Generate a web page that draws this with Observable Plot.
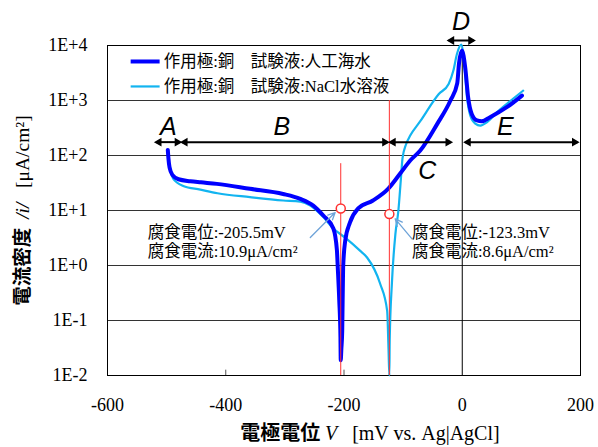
<!DOCTYPE html>
<html><head><meta charset="utf-8">
<script src="https://cdn.jsdelivr.net/npm/d3@7"></script>
<script src="https://cdn.jsdelivr.net/npm/@observablehq/plot@0.6"></script>
<style>body{margin:0;background:#fff}</style>
</head><body><div id="chart"></div>
<script>
// ---- data (potential mV vs Ag|AgCl, current density µA/cm²) ----
const seawaterV = [-498,-497,-495,-490,-480,-460,-442,-415,-359,-303,-274,-252,-235,-218,-212,-210.5,-208,-206,-205.5,-204.5,-203,-201.5,-198,-190,-176,-151,-125,-105,-88,-71,-42,-20,-8.5,-5.5,-0.5,5,10,16,25,33,47,76,101];
const seawaterI = [126,90,60,44,37,34,32.5,30.5,24.8,20,16.3,12.3,8.1,4.7,1.9,0.9,0.23,0.05,0.019,0.03,0.066,0.9,2.8,6,10.9,15.2,25,47,81,123,380,1000,2040,4700,8100,4000,1130,570,434,420,498,763,1230];
const naclV = [-498,-497,-494,-489,-472,-443,-414,-359,-303,-274,-257,-235,-218,-198,-173,-161,-139,-127,-124.7,-123.3,-122.7,-119,-113,-108,-104,-101,-95,-88,-71,-40,-23,-15,-9,-1.7,3.4,8,13.5,22,30.5,42,59,76,103];
const naclI = [126,90,60,38,28,24,20.6,17.5,15.2,14.5,12.3,7.6,4.7,3.2,1.86,1.4,0.47,0.15,0.03,0.01,0.044,0.47,3.8,10,35,90,160,230,420,1300,2000,3500,7000,10400,4700,1150,535,380,350,403,614,880,1510];
const seriesNames = ["作用極:銅　試験液:人工海水", "作用極:銅　試験液:NaCl水溶液"];
const corrosionV = [-205.5, -123.3];
const corrosionI = [10.9, 8.6];
const corrosionText = ["腐食電位:-205.5mV\n腐食電流:10.9μA/cm²", "腐食電位:-123.3mV\n腐食電流:8.6μA/cm²"];
const xTicks = [-600, -400, -200, 0, 200];
const xTickLabels = ["-600", "-400", "-200", "0", "200"];
const yTicks = [0.01, 0.1, 1, 10, 100, 1000, 10000];
const yTickLabels = ["1E-2", "1E-1", "1E+0", "1E+1", "1E+2", "1E+3", "1E+4"];
const regionLabels = ["A", "B", "C", "D", "E"];
const regionFrom = [-518, -474, -122, -23, 5];
const regionTo = [-477, -126, -19, 19.5, 195];

// ---- tables built from the arrays ----
const seawater = seawaterV.map((v, i) => ({V: v, I: seawaterI[i]}));
const nacl = naclV.map((v, i) => ({V: v, I: naclI[i]}));
const corr = corrosionV.map((v, i) => ({V: v, I: corrosionI[i], text: corrosionText[i]}));
const regionY = [175, 175, 175, 12330, 175];
const regionLabelX = [-497, -305, -59, -2, 73];
const regionLabelY = [323, 323, 53, 26500, 323];
const regions = regionLabels.map((l, i) => ({l, a: regionFrom[i], b: regionTo[i], y: regionY[i], lx: regionLabelX[i], ly: regionLabelY[i]}));

const serif = "'Liberation Serif','Noto Sans CJK JP',serif";
const DARK = "#0000ff", LIGHT = "#12b4f0", RED = "#ff3030", POINT = "#6ea3d8";

const chart = Plot.plot({
  width: 598, height: 447,
  marginLeft: 107, marginRight: 18, marginTop: 45, marginBottom: 72,
  style: {fontFamily: serif, fontSize: "17px", background: "white", overflow: "visible", color: "black"},
  x: {domain: [-600, 200], axis: null},
  y: {type: "log", domain: [0.01, 10000], axis: null},
  marks: [
    Plot.gridY(yTicks, {stroke: "#333", strokeOpacity: 1}),
    Plot.ruleX([0], {stroke: "black"}),
    Plot.ruleX([-400, -200], {y1: 0.01, y2: 0.0125, stroke: "#555"}),
    Plot.frame({stroke: "black"}),
    // tick labels (serif)
    Plot.text(xTicks, {x: d => d, y: 0.01, dy: 30, text: (d, i) => xTickLabels[i], fontSize: 18, fontFamily: "'Liberation Serif',serif"}),
    Plot.text(yTicks, {x: -600, y: d => d, dx: -20, textAnchor: "end", text: (d, i) => yTickLabels[i], fontSize: 18, fontFamily: "'Liberation Serif',serif"}),
    // curves
    Plot.line(nacl, {x: "V", y: "I", stroke: LIGHT, strokeWidth: 2.2, curve: "monotone-x"}),
    Plot.line(seawater, {x: "V", y: "I", stroke: DARK, strokeWidth: 4, curve: "monotone-x", strokeLinecap: "round"}),
    // corrosion potential markers
    Plot.ruleX([corr[0]], {x: "V", y1: 71, y2: 0.01, stroke: RED, strokeWidth: 1}),
    Plot.ruleX([corr[1]], {x: "V", y1: 1000, y2: 0.01, stroke: RED, strokeWidth: 1}),
    Plot.dot(corr, {x: "V", y: "I", r: 4.5, stroke: RED, fill: "white", strokeWidth: 1.5}),
    Plot.arrow([{x1: -257, y1: 3.23, x2: -215, y2: 9.2}, {x1: -85, y1: 3.05, x2: -113.4, y2: 7.06}],
      {x1: "x1", y1: "y1", x2: "x2", y2: "y2", stroke: POINT, strokeWidth: 1.3, headLength: 9, headAngle: 50}),
    Plot.text(corr, {x: (d, i) => [-532, -85][i], y: 5.8, text: "text", textAnchor: "start", lineAnchor: "top", lineHeight: 1.2, fontSize: 16.5}),
    // region arrows
    Plot.link(regions, {x1: "a", x2: "b", y1: "y", y2: "y", stroke: "black", strokeWidth: 2}),
    Plot.dot(regions, {x: "a", y: "y", symbol: "triangle2", r: 4.2, rotate: -90, fill: "black", dx: 3}),
    Plot.dot(regions, {x: "b", y: "y", symbol: "triangle2", r: 4.2, rotate: 90, fill: "black", dx: -3}),
    Plot.text(regions, {x: "lx", y: "ly", text: "l", fontFamily: "'Liberation Sans',Arial,sans-serif", fontStyle: "italic", fontSize: 25}),
    // legend
    Plot.ruleY([5120], {x1: -560, x2: -511, stroke: DARK, strokeWidth: 4}),
    Plot.ruleY([1800], {x1: -560, x2: -511, stroke: LIGHT, strokeWidth: 2.2}),
    Plot.text([seriesNames[0]], {x: -505, y: 5120, text: d => d, textAnchor: "start", fontSize: 16.5}),
    Plot.text([seriesNames[1]], {x: -505, y: 1800, text: d => d, textAnchor: "start", fontSize: 16.5}),
    // axis titles
    Plot.text(["電極電位 V  [mV vs. Ag|AgCl]"], {frameAnchor: "bottom", textAnchor: "middle", dx: 26, dy: 64, text: d => d, fontSize: 20, className: "xtitle"}),
    Plot.text(["電流密度 |i|  [μA/cm²]"], {frameAnchor: "left", textAnchor: "middle", dx: -85, rotate: -90, text: d => d, fontSize: 19.5, className: "ytitle"})
  ]
});
document.getElementById("chart").append(chart);

// mixed styling inside the axis titles
function styleTitle(cls, parts) {
  const t = d3.select(chart).select("." + cls + " text");
  t.text(null);
  for (const [s, st] of parts) {
    const sp = t.append("tspan").text(s);
    if (st.bold) sp.attr("font-weight", "bold").attr("font-family", "'Noto Sans CJK JP',sans-serif");
    if (st.italic) sp.attr("font-style", "italic");
  }
}
styleTitle("xtitle", [["電極電位 ", {bold: true}], ["V", {italic: true}], ["\u00a0\u00a0\u00a0[mV vs.\u00a0Ag|AgCl]", {}]]);
styleTitle("ytitle", [["電流密度\u00a0\u00a0", {bold: true}], ["/i/", {italic: true}], ["\u00a0\u00a0\u00a0[μA/cm²]", {}]]);
</script>
</body></html>
